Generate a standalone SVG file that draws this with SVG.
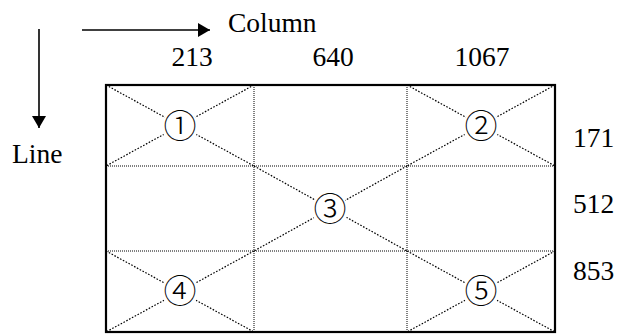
<svg xmlns="http://www.w3.org/2000/svg" width="617" height="334" viewBox="0 0 617 334">
  <defs>
    <marker id="head" viewBox="0 0 12 14" refX="12" refY="7" markerWidth="12" markerHeight="14" markerUnits="userSpaceOnUse" orient="auto">
      <path d="M0,0 L12,7 L0,14 Z" fill="#000"/>
    </marker>
  </defs>
  <style>
    .lbl { font-family: "Liberation Serif", "Times New Roman", serif; font-size: 27.5px; fill: #000; }
    .num { font-family: "Liberation Serif", "Noto Sans CJK JP", serif; font-size: 33px; font-weight: 300; fill: #000; text-anchor: middle; dominant-baseline: central; }
    .grid { stroke: #000; stroke-width: 1; stroke-dasharray: 1 1; fill: none; }
    .diag { stroke: #000; stroke-width: 1.2; stroke-dasharray: 1.6 1.6; fill: none; }
    .gap { fill: #fff; }
    .frame { stroke: #000; stroke-width: 2.2; fill: none; }
    .axis { stroke: #000; stroke-width: 1.6; fill: none; }
  </style>
  <rect width="617" height="334" fill="#fff"/>

  <!-- axis arrows -->
  <g id="connectors">
    <line class="axis" x1="82" y1="30" x2="210" y2="30" marker-end="url(#head)"/>
    <line class="axis" x1="39" y1="29" x2="39" y2="128" marker-end="url(#head)"/>
  </g>

  <!-- axis labels -->
  <g id="labels">
    <text class="lbl" x="228" y="32">Column</text>
    <text class="lbl" x="192" y="66" text-anchor="middle">213</text>
    <text class="lbl" x="333" y="66" text-anchor="middle">640</text>
    <text class="lbl" x="482" y="66" text-anchor="middle">1067</text>
    <text class="lbl" x="12" y="163">Line</text>
    <text class="lbl" x="573" y="147">171</text>
    <text class="lbl" x="573" y="213">512</text>
    <text class="lbl" x="573" y="280">853</text>
  </g>

  <!-- 3x3 grid -->
  <g id="grid">
    <line class="grid" x1="254" y1="85" x2="254" y2="332"/>
    <line class="grid" x1="407" y1="85" x2="407" y2="332"/>
    <line class="grid" x1="106" y1="166" x2="555" y2="166"/>
    <line class="grid" x1="106" y1="251" x2="555" y2="251"/>
  </g>

  <!-- regions with crossed diagonals -->
  <g id="region1">
    <line class="diag" x1="106" y1="85" x2="254" y2="166"/>
    <line class="diag" x1="254" y1="85" x2="106" y2="166"/>
    <circle class="gap" cx="180" cy="127" r="18"/>
    <text class="num" x="180" y="127">①</text>
  </g>
  <g id="region2">
    <line class="diag" x1="407" y1="85" x2="555" y2="166"/>
    <line class="diag" x1="555" y1="85" x2="407" y2="166"/>
    <circle class="gap" cx="481" cy="127" r="18"/>
    <text class="num" x="481" y="127">②</text>
  </g>
  <g id="region3">
    <line class="diag" x1="254" y1="166" x2="407" y2="251"/>
    <line class="diag" x1="407" y1="166" x2="254" y2="251"/>
    <circle class="gap" cx="330" cy="210" r="18"/>
    <text class="num" x="330" y="210">③</text>
  </g>
  <g id="region4">
    <line class="diag" x1="106" y1="251" x2="254" y2="332"/>
    <line class="diag" x1="254" y1="251" x2="106" y2="332"/>
    <circle class="gap" cx="180" cy="292" r="18"/>
    <text class="num" x="180" y="292">④</text>
  </g>
  <g id="region5">
    <line class="diag" x1="407" y1="251" x2="555" y2="332"/>
    <line class="diag" x1="555" y1="251" x2="407" y2="332"/>
    <circle class="gap" cx="481" cy="292" r="18"/>
    <text class="num" x="481" y="292">⑤</text>
  </g>

  <!-- outer frame -->
  <rect id="frame" class="frame" x="106" y="85" width="449" height="247"/>
</svg>
